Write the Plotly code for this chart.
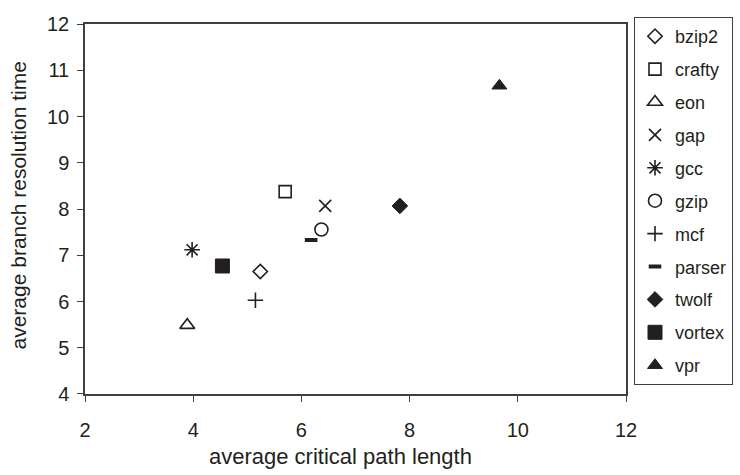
import plotly.graph_objects as go

names = ["bzip2", "crafty", "eon", "gap", "gcc", "gzip", "mcf", "parser", "twolf", "vortex", "vpr"]
crit_path = [5.24, 5.70, 3.89, 6.44, 3.98, 6.37, 5.15, 6.18, 7.82, 4.54, 9.66]
branch_time = [6.65, 8.38, 5.49, 8.07, 7.12, 7.56, 6.03, 7.33, 8.07, 6.77, 10.67]

symbols = ["diamond-open", "square-open", "triangle-up-open", "x-thin-open", "asterisk-open",
           "circle-open", "cross-thin-open", "line-ew-open", "diamond", "square", "triangle-up"]
sizes = [11, 12, 13, 12, 13, 13, 11, 9, 12, 14, 13]
linew = [1.6, 1.6, 1.6, 1.6, 1.6, 1.6, 1.6, 4, 1, 1, 1]

ink = "#231f20"
FONT = "Liberation Sans, Arial, sans-serif"
fig = go.Figure()
for i, n in enumerate(names):
    fig.add_trace(go.Scatter(
        x=[crit_path[i]], y=[branch_time[i]], mode="markers", name=n,
        legendgroup=n,
        marker=dict(symbol=symbols[i], size=sizes[i], color=ink,
                    line=dict(color=ink, width=linew[i])),
    ))

axis_common = dict(showgrid=False, zeroline=False, showline=True, mirror=True,
                   linecolor="#404040", linewidth=1.5, ticks="outside", ticklen=6,
                   tickcolor="#404040", tickwidth=1.2,
                   tickfont=dict(family=FONT, size=20, color=ink))

W, H = 740, 475
L, R, T, B = 85, 114, 6, 81
pw, ph = W - L - R, H - T - B
plot_top = 13.5
fig.update_xaxes(range=[2, 12], tickvals=[2, 4, 6, 8, 10, 12], ticklabelstandoff=11, **axis_common)
fig.update_yaxes(range=[4, 12], tickvals=[4, 5, 6, 7, 8, 9, 10, 11, 12], ticklabelstandoff=4,
                 domain=[0, (H - B - plot_top) / ph], **axis_common)

fig.update_layout(
    width=W, height=H,
    margin=dict(l=L, r=R, t=T, b=B),
    plot_bgcolor="white", paper_bgcolor="white",
    font=dict(family=FONT, size=20, color=ink),
    showlegend=True,
    legend=dict(x=(634 - L) / pw, y=1.0, xanchor="left", yanchor="top",
                bordercolor="#404040", borderwidth=1, bgcolor="white",
                font=dict(family=FONT, size=18, color=ink), tracegroupgap=6.5,
                traceorder="grouped"),
)
fig.add_annotation(text="average critical path length", xref="paper", yref="paper",
                   x=(340 - L) / pw, y=(H - B - 458) / ph, showarrow=False,
                   xanchor="center", yanchor="middle", font=dict(family=FONT, size=22, color=ink))
fig.add_annotation(text="average branch resolution time", xref="paper", yref="paper",
                   x=(18 - L) / pw, y=(H - B - 200) / ph, showarrow=False, textangle=-90,
                   xanchor="center", yanchor="middle", font=dict(family=FONT, size=21, color=ink))

fig.write_html("out.html")
